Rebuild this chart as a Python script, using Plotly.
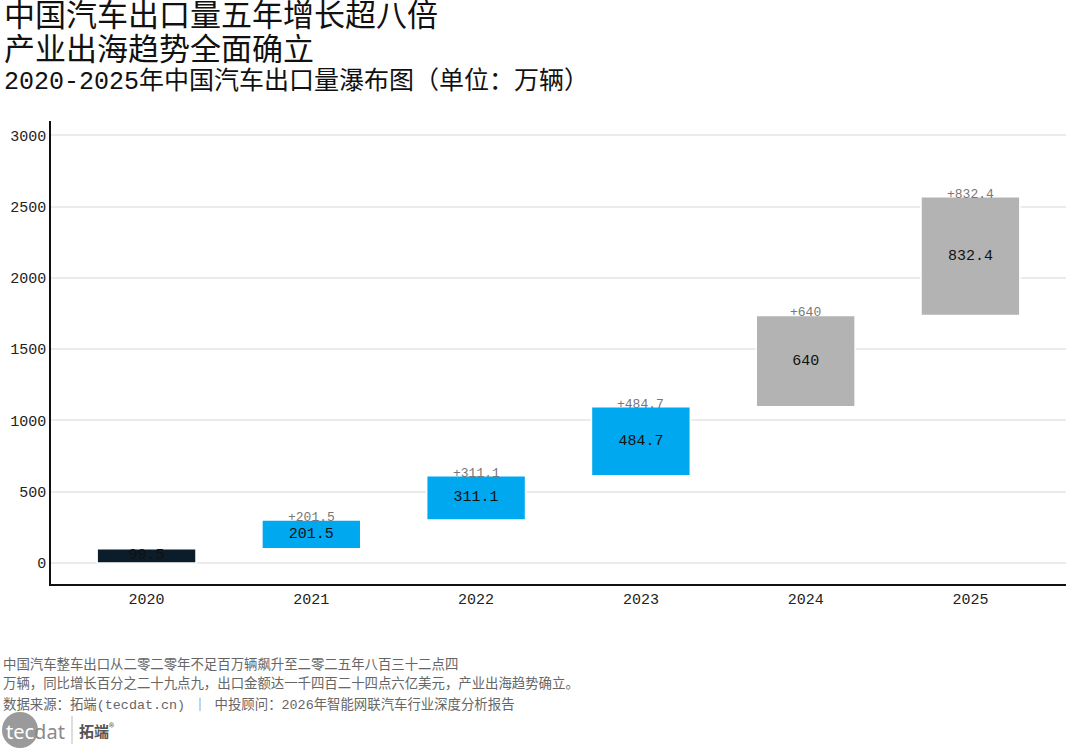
import plotly.graph_objects as go

years = ["2020", "2021", "2022", "2023", "2024", "2025"]
changes = [99.5, 201.5, 311.1, 484.7, 640, 832.4]
bar_colors = ["#0B1C2A", "#00A8EF", "#00A8EF", "#00A8EF", "#B3B3B3", "#B3B3B3"]
inside_labels = ["99.5", "201.5", "311.1", "484.7", "640", "832.4"]
top_labels = [None, "+201.5", "+311.1", "+484.7", "+640", "+832.4"]
y_ticks = [0, 500, 1000, 1500, 2000, 2500, 3000]

title_lines = ["中国汽车出口量五年增长超八倍", "产业出海趋势全面确立"]
subtitle = "2020-2025年中国汽车出口量瀑布图（单位：万辆）"
footer_lines = [
    "中国汽车整车出口从二零二零年不足百万辆飙升至二零二五年八百三十二点四",
    "万辆，同比增长百分之二十九点九，出口金额达一千四百二十四点六亿美元，产业出海趋势确立。",
    "数据来源：拓端(tecdat.cn) ｜ 中投顾问：2026年智能网联汽车行业深度分析报告",
]

FONT = "Liberation Mono, Noto Sans CJK SC, sans-serif"

# waterfall bases
bases = []
run = 0
for i, c in enumerate(changes):
    bases.append(0 if i == 0 else run)
    run = (c if i == 0 else run + c)
tops = [b + c for b, c in zip(bases, changes)]

W, H = 1076, 753
ML, MR, MT, MB = 51, 10, 121, 169
PW, PH = W - ML - MR, H - MT - MB

def px(x):
    return (x - ML) / PW

def py(y):
    return (H - MB - y) / PH

fig = go.Figure()
fig.add_trace(go.Bar(
    x=years, y=changes, base=bases,
    marker=dict(color=bar_colors, line=dict(color="white", width=1.5)),
    width=0.6,
    text=inside_labels, textposition="inside", insidetextanchor="middle",
    constraintext="none", textangle=0,
    textfont=dict(family=FONT, size=15, color="#111111"),
    hoverinfo="skip",
))

annotations = []
for i, (t, lab) in enumerate(zip(tops, top_labels)):
    if lab:
        annotations.append(dict(x=i, y=t, xref="x", yref="y", text=lab,
                                showarrow=False, yanchor="bottom", yshift=-7,
                                font=dict(family=FONT, size=13, color="#777777")))

# titles
annotations.append(dict(xref="paper", yref="paper", x=px(2), y=py(17), xanchor="left",
                        yanchor="middle", showarrow=False, text=title_lines[0],
                        font=dict(family=FONT, size=31, color="#111111")))
annotations.append(dict(xref="paper", yref="paper", x=px(2), y=py(51), xanchor="left",
                        yanchor="middle", showarrow=False, text=title_lines[1],
                        font=dict(family=FONT, size=31, color="#111111")))
annotations.append(dict(xref="paper", yref="paper", x=px(2), y=py(82), xanchor="left",
                        yanchor="middle", showarrow=False, text=subtitle,
                        font=dict(family=FONT, size=25, color="#111111")))
for i, line in enumerate(footer_lines):
    annotations.append(dict(xref="paper", yref="paper", x=px(1), y=py(664 + i * 20),
                            xanchor="left", yanchor="middle", showarrow=False, text=line,
                            font=dict(family=FONT, size=13.4, color="#666666")))

# logo
shapes = [
    dict(type="circle", xref="paper", yref="paper", x0=px(2), x1=px(38), y0=py(748), y1=py(712),
         fillcolor="#9A9A9A", line=dict(width=0)),
    dict(type="line", xref="paper", yref="paper", x0=px(72), x1=px(72), y0=py(744), y1=py(716),
         line=dict(color="#BBBBBB", width=1)),
]
annotations.append(dict(xref="paper", yref="paper", x=px(4), y=py(731), xanchor="left",
                        yanchor="middle", showarrow=False,
                        text="<span style='color:#ffffff'>tec</span><span style='color:#8A8A8A'>dat</span>",
                        font=dict(family="Noto Sans, sans-serif", size=20)))
annotations.append(dict(xref="paper", yref="paper", x=px(77), y=py(730), xanchor="left",
                        yanchor="middle", showarrow=False, text="<b>拓端</b><sup>®</sup>",
                        font=dict(family="Noto Sans CJK SC, sans-serif", size=15, color="#555555")))

fig.update_layout(
    width=W, height=H,
    margin=dict(l=ML, r=MR, t=MT, b=MB),
    paper_bgcolor="white", plot_bgcolor="white",
    showlegend=False, bargap=0.4,
    font=dict(family=FONT, color="#222222"),
    annotations=annotations, shapes=shapes,
    xaxis=dict(type="category", range=[-0.58, 5.58], showgrid=False,
               showline=True, linecolor="#111111", linewidth=1.5, ticks="",
               tickfont=dict(family=FONT, size=15, color="#222222")),
    yaxis=dict(range=[-147, 3100], tickvals=y_ticks, showgrid=True, gridcolor="#EBEBEB",
               gridwidth=1.5, zeroline=False, showline=True, linecolor="#111111",
               linewidth=1.5, ticks="", tickfont=dict(family=FONT, size=15, color="#222222")),
)

fig.write_html("out.html")
